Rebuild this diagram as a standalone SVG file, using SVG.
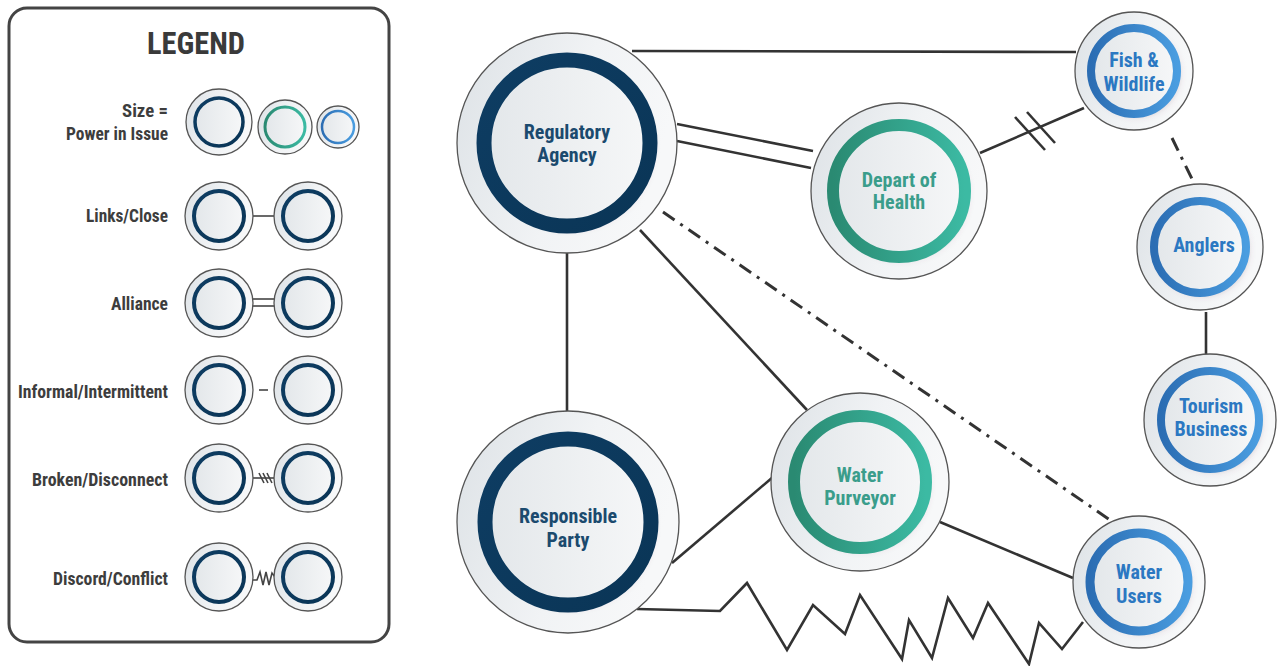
<svg xmlns="http://www.w3.org/2000/svg" width="1280" height="666" viewBox="0 0 1280 666">
<defs>
<linearGradient id="gOuter" x1="0" y1="0" x2="1" y2="0.3"><stop offset="0" stop-color="#dde2e6"/><stop offset="0.6" stop-color="#f1f3f5"/><stop offset="1" stop-color="#f7f8f9"/></linearGradient>
<linearGradient id="gInner" x1="0" y1="0" x2="1" y2="0"><stop offset="0" stop-color="#e3e7ea"/><stop offset="1" stop-color="#f6f7f8"/></linearGradient>
<linearGradient id="gNavy" x1="0" y1="0" x2="1" y2="1"><stop offset="0" stop-color="#0e3d63"/><stop offset="1" stop-color="#0a3556"/></linearGradient>
<linearGradient id="gGreen" x1="0" y1="0" x2="1" y2="0"><stop offset="0" stop-color="#2a8a72"/><stop offset="1" stop-color="#3cbaa3"/></linearGradient>
<linearGradient id="gBlue" x1="0" y1="0" x2="1" y2="0"><stop offset="0" stop-color="#2b6db3"/><stop offset="1" stop-color="#4a9de0"/></linearGradient>
<filter id="sh" x="-20%" y="-20%" width="140%" height="140%"><feDropShadow dx="3" dy="3" stdDeviation="3" flood-color="#7a5060" flood-opacity="0.25"/></filter>
</defs>
<style>
.outer{fill:url(#gOuter);stroke:#555;stroke-width:1.3}
.inner{fill:url(#gInner)}
.navy{stroke:url(#gNavy);fill:none}
.green{stroke:url(#gGreen);fill:none}
.blue{stroke:url(#gBlue);fill:none}
.ln{stroke:#333;stroke-width:2.6;fill:none}
.lnl{stroke:#444;stroke-width:1.6;fill:none}
.dd{stroke:#333;stroke-width:3;fill:none;stroke-dasharray:14 7 3 7}
text{font-family:"Roboto Condensed","Liberation Sans Narrow","DejaVu Sans Condensed",Roboto,sans-serif;font-weight:700;font-stretch:condensed}
.lg{fill:#3d3d3d;font-size:18px;text-anchor:end}
.tn{fill:#1b4a6e;font-size:20px;text-anchor:middle}
.tg{fill:#3a9d8b;font-size:20px;text-anchor:middle}
.tb{fill:#2b78c2;font-size:20px;text-anchor:middle}
</style>
<rect width="1280" height="666" fill="#fff"/>

<g id="legend">
<rect x="9" y="8" width="380" height="634" rx="18" fill="#fff" stroke="#444" stroke-width="3"/>
<text x="196" y="54" text-anchor="middle" style="font-size:31px;fill:#3a3a3a" textLength="98" lengthAdjust="spacingAndGlyphs">LEGEND</text>
<text class="lg" x="168" y="117" textLength="46" lengthAdjust="spacingAndGlyphs">Size =</text>
<text class="lg" x="168" y="140" textLength="102" lengthAdjust="spacingAndGlyphs">Power in Issue</text>
<text class="lg" x="168" y="222" textLength="82" lengthAdjust="spacingAndGlyphs">Links/Close</text>
<text class="lg" x="168" y="310" textLength="57" lengthAdjust="spacingAndGlyphs">Alliance</text>
<text class="lg" x="168" y="398" textLength="150" lengthAdjust="spacingAndGlyphs">Informal/Intermittent</text>
<text class="lg" x="168" y="486" textLength="136" lengthAdjust="spacingAndGlyphs">Broken/Disconnect</text>
<text class="lg" x="168" y="585" textLength="115" lengthAdjust="spacingAndGlyphs">Discord/Conflict</text>

<circle class="outer" cx="219" cy="122" r="33"/><circle class="inner" cx="219" cy="122" r="24"/><circle class="navy" cx="219" cy="122" r="24" stroke-width="3.5"/>
<circle class="outer" cx="285" cy="127" r="27"/><circle class="inner" cx="285" cy="127" r="20"/><circle class="green" cx="285" cy="127" r="20" stroke-width="3"/>
<circle class="outer" cx="338" cy="127" r="21"/><circle class="inner" cx="338" cy="127" r="16"/><circle class="blue" cx="338" cy="127" r="16" stroke-width="2.5"/>

<line class="lnl" x1="252" y1="216" x2="275" y2="216"/>
<line class="lnl" x1="252" y1="299" x2="275" y2="299"/><line class="lnl" x1="252" y1="306" x2="275" y2="306"/>
<line class="lnl" x1="259" y1="390" x2="268" y2="390"/>
<line class="lnl" x1="252" y1="478" x2="276" y2="478"/>
<line class="lnl" x1="259" y1="473" x2="264" y2="483" stroke-width="1.2"/><line class="lnl" x1="263" y1="473" x2="268" y2="483" stroke-width="1.2"/><line class="lnl" x1="267" y1="473" x2="272" y2="483" stroke-width="1.2"/>
<polyline class="lnl" stroke-width="1.3" points="253,580 257,580 260,572 263,585 266,572 269,585 272,573 275,577"/>

<g id="legend-pairs">
<circle class="outer" cx="219" cy="216" r="34"/><circle class="inner" cx="219" cy="216" r="25"/><circle class="navy" cx="219" cy="216" r="25" stroke-width="4"/>
<circle class="outer" cx="308" cy="216" r="34"/><circle class="inner" cx="308" cy="216" r="25"/><circle class="navy" cx="308" cy="216" r="25" stroke-width="4"/>
<circle class="outer" cx="219" cy="303" r="34"/><circle class="inner" cx="219" cy="303" r="25"/><circle class="navy" cx="219" cy="303" r="25" stroke-width="4"/>
<circle class="outer" cx="308" cy="303" r="34"/><circle class="inner" cx="308" cy="303" r="25"/><circle class="navy" cx="308" cy="303" r="25" stroke-width="4"/>
<circle class="outer" cx="219" cy="390" r="34"/><circle class="inner" cx="219" cy="390" r="25"/><circle class="navy" cx="219" cy="390" r="25" stroke-width="4"/>
<circle class="outer" cx="308" cy="390" r="34"/><circle class="inner" cx="308" cy="390" r="25"/><circle class="navy" cx="308" cy="390" r="25" stroke-width="4"/>
<circle class="outer" cx="219" cy="478" r="34"/><circle class="inner" cx="219" cy="478" r="25"/><circle class="navy" cx="219" cy="478" r="25" stroke-width="4"/>
<circle class="outer" cx="308" cy="478" r="34"/><circle class="inner" cx="308" cy="478" r="25"/><circle class="navy" cx="308" cy="478" r="25" stroke-width="4"/>
<circle class="outer" cx="219" cy="577" r="34"/><circle class="inner" cx="219" cy="577" r="25"/><circle class="navy" cx="219" cy="577" r="25" stroke-width="4"/>
<circle class="outer" cx="308" cy="577" r="34"/><circle class="inner" cx="308" cy="577" r="25"/><circle class="navy" cx="308" cy="577" r="25" stroke-width="4"/>
</g>
</g>

<g id="connectors">
<line class="ln" x1="632" y1="51" x2="1076" y2="52"/>
<line class="ln" x1="677" y1="124" x2="813" y2="151"/>
<line class="ln" x1="677" y1="141" x2="811" y2="168"/>
<line class="ln" x1="980" y1="153" x2="1084" y2="108"/>
<line class="ln" x1="1015" y1="117" x2="1045" y2="150"/>
<line class="ln" x1="1027" y1="112" x2="1055" y2="143"/>
<line class="dd" x1="1172" y1="138" x2="1193" y2="181"/>
<line class="ln" x1="1206" y1="312" x2="1206" y2="354"/>
<line class="ln" x1="567" y1="253" x2="567" y2="412"/>
<line class="ln" x1="640" y1="230" x2="807" y2="410"/>
<line class="dd" x1="663" y1="212" x2="1110" y2="520"/>
<line class="ln" x1="672" y1="563" x2="773" y2="477"/>
<line class="ln" x1="940" y1="522" x2="1073" y2="578"/>
<polyline class="ln" stroke-linejoin="miter" points="637,609 720,611 747,583 787,650 813,605 845,634 860,595 902,659 909,620 932,658 948,598 973,638 988,603 1029,664 1039,623 1062,649 1083,622"/>
</g>

<g id="node-regulatory">
<circle class="outer" cx="567" cy="143" r="110"/>
<circle class="inner" cx="567" cy="143" r="83" filter="url(#sh)"/>
<circle class="navy" cx="567" cy="143" r="83" stroke-width="15"/>
<text class="tn" x="567" y="139">Regulatory</text><text class="tn" x="567" y="162">Agency</text>
</g>
<g id="node-health">
<circle class="outer" cx="899" cy="191" r="88"/>
<circle class="inner" cx="899" cy="191" r="66" filter="url(#sh)"/>
<circle class="green" cx="899" cy="191" r="66" stroke-width="12"/>
<text class="tg" x="899" y="187">Depart of</text><text class="tg" x="899" y="209">Health</text>
</g>
<g id="node-fish">
<circle class="outer" cx="1134" cy="71" r="59"/>
<circle class="inner" cx="1134" cy="71" r="43" filter="url(#sh)"/>
<circle class="blue" cx="1134" cy="71" r="43" stroke-width="8"/>
<text class="tb" x="1134" y="67">Fish &amp;</text><text class="tb" x="1134" y="91">Wildlife</text>
</g>
<g id="node-anglers">
<circle class="outer" cx="1200" cy="247" r="63"/>
<circle class="inner" cx="1200" cy="247" r="46" filter="url(#sh)"/>
<circle class="blue" cx="1200" cy="247" r="46" stroke-width="8"/>
<text class="tb" x="1204" y="252">Anglers</text>
</g>
<g id="node-tourism">
<circle class="outer" cx="1210" cy="420" r="66"/>
<circle class="inner" cx="1210" cy="420" r="49" filter="url(#sh)"/>
<circle class="blue" cx="1210" cy="420" r="49" stroke-width="8"/>
<text class="tb" x="1211" y="413">Tourism</text><text class="tb" x="1211" y="436">Business</text>
</g>
<g id="node-responsible">
<circle class="outer" cx="568" cy="522" r="111"/>
<circle class="inner" cx="568" cy="522" r="83" filter="url(#sh)"/>
<circle class="navy" cx="568" cy="522" r="83" stroke-width="15"/>
<text class="tn" x="568" y="523">Responsible</text><text class="tn" x="568" y="547">Party</text>
</g>
<g id="node-purveyor">
<circle class="outer" cx="860" cy="482" r="89"/>
<circle class="inner" cx="860" cy="482" r="66" filter="url(#sh)"/>
<circle class="green" cx="860" cy="482" r="66" stroke-width="12"/>
<text class="tg" x="860" y="482">Water</text><text class="tg" x="860" y="505">Purveyor</text>
</g>
<g id="node-users">
<circle class="outer" cx="1139" cy="582" r="66"/>
<circle class="inner" cx="1139" cy="582" r="49" filter="url(#sh)"/>
<circle class="blue" cx="1139" cy="582" r="49" stroke-width="9"/>
<text class="tb" x="1139" y="579">Water</text><text class="tb" x="1139" y="603">Users</text>
</g>
</svg>
